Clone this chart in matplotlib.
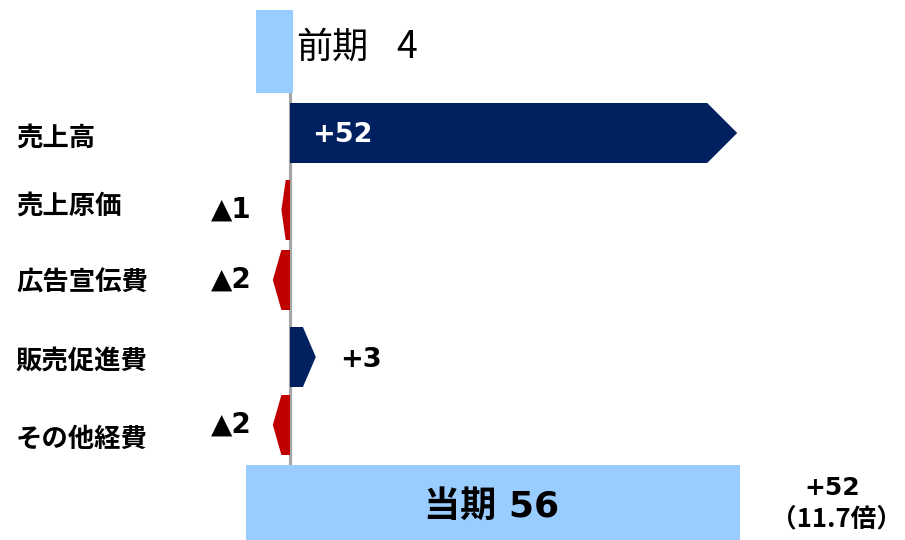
import matplotlib
matplotlib.use("Agg")
import matplotlib.pyplot as plt
from matplotlib.patches import Polygon, Rectangle

plt.rcParams["font.family"] = ["DejaVu Sans", "Noto Sans CJK JP"]

# data
prev_label = "前期"
prev_value = 4
cur_label = "当期"
cur_value = 56
categories = ["売上高", "売上原価", "広告宣伝費", "販売促進費", "その他経費"]
deltas = [52, -1, -2, 3, -2]
delta_labels = ["+52", "▲1", "▲2", "+3", "▲2"]
change_top = "+52"
change_bottom = "（11.7倍）"

# layout (x in value units, y in pixel rows)
PX = 8.6  # pixels per unit
W, H = 905, 540
row_y = [133, 210, 280, 357, 425]
label_y = [138, 206, 283, 361, 439]
bar_h = 60

NAVY = "#002060"
RED = "#C00000"
LIGHT = "#99CCFF"

fig = plt.figure(figsize=(W / 100, H / 100), dpi=100)
ax = fig.add_axes([0, 0, 1, 1])
ax.set_xlim(-290 / PX, (W - 290) / PX)
ax.set_ylim(H, 0)
ax.axis("off")

# baseline
ax.plot([0, 0], [88, 465], color="#A6A6A6", lw=2.3, zorder=1)

# previous period
ax.add_patch(Rectangle((-prev_value, 10), prev_value + 0.3, 83, color=LIGHT, lw=0, zorder=2))
ax.text(6 / PX, 48, prev_label, fontsize=26,
        family=["Noto Sans CJK JP"], va="center", ha="left")
ax.text(106 / PX, 48, str(prev_value), fontsize=27,
        family=["Noto Sans CJK JP"], va="center", ha="left")

# delta arrows
for cat, v, lab, yc, ly in zip(categories, deltas, delta_labels, row_y, label_y):
    sign = 1 if v > 0 else -1
    tip_px = min(bar_h / 2, abs(v) * PX / 2)
    body = v - sign * tip_px / PX
    top, bot = yc - bar_h / 2, yc + bar_h / 2
    pts = [(0, top), (body, top), (v, yc), (body, bot), (0, bot)]
    ax.add_patch(Polygon(pts, closed=True, color=NAVY if v > 0 else RED, lw=0, zorder=2))
    ax.text(16 / PX - 290 / PX, ly, cat, fontsize=19, fontweight="bold",
            family=["Noto Sans CJK JP"], va="center", ha="left")
    if v > 20:
        ax.text(22 / PX, yc + 2, lab, fontsize=19.5, fontweight="bold", color="white",
                va="center", ha="left")
    elif v > 0:
        ax.text(v + 24 / PX, yc + 3, lab, fontsize=19.5, fontweight="bold",
                va="center", ha="left")
    else:
        ax.text(-38 / PX, yc, lab, fontsize=20, fontweight="bold",
                va="center", ha="right")

# current period
cur_left = -(prev_value + 1.1)
ax.add_patch(Rectangle((cur_left, 465), deltas[0] + 0.3 - cur_left, 75, color=LIGHT, lw=0, zorder=2))
ax.text((cur_left + deltas[0]) / 2, 507, f"{cur_label} {cur_value}", fontsize=26,
        fontweight="bold", va="center", ha="center", zorder=3)

# change annotation
ax.text(542 / PX, 488, change_top, fontsize=18, fontweight="bold",
        va="center", ha="center")
ax.text(612 / PX, 519, change_bottom, fontsize=18.5, fontweight="bold",
        family=["Noto Sans CJK JP"], va="center", ha="right")

fig.savefig("out.png", dpi=100)
